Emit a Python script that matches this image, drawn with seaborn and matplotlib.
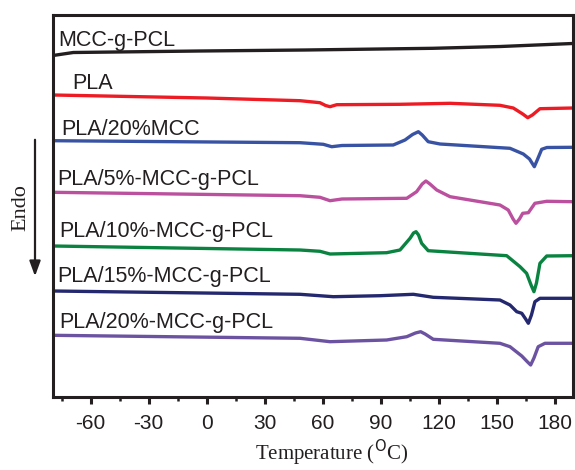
import numpy as np
import pandas as pd
import matplotlib
matplotlib.use("Agg")
import matplotlib.pyplot as plt
import seaborn as sns
from matplotlib.ticker import MultipleLocator

# ---------------- data ----------------
labels = ["MCC-g-PCL", "PLA", "PLA/20%MCC", "PLA/5%-MCC-g-PCL",
          "PLA/10%-MCC-g-PCL", "PLA/15%-MCC-g-PCL", "PLA/20%-MCC-g-PCL"]
colors = ["#231f20", "#ed1c24", "#3953a4", "#bb509e",
          "#0a8341", "#24286e", "#6c53a2"]

t_mcc = [-79.5, -69, -3.5, 51, 117, 152, 189.3]
hf_mcc = [34.15, 34.45, 34.6, 34.7, 34.87, 35.05, 35.35]

t_pla = [-79.5, 0, 48.3, 58.6, 61.5, 63.8, 67.3, 100, 126, 151.7, 158.6,
         163.5, 166.1, 168.5, 172.4, 189.3]
hf_pla = [30.2, 29.9, 29.63, 29.43, 29.15, 29.03, 29.23, 29.27, 29.37, 29.17,
          28.9, 28.3, 27.93, 28.2, 28.83, 28.9]

t_pla20mcc = [-79.5, 48.3, 60.3, 64.7, 70, 96.5, 102.6, 106.5, 109.5, 111.5,
              114.6, 120.7, 156.9, 163.8, 167, 169.5, 171, 173.3, 176, 189.3]
hf_pla20mcc = [25.63, 25.43, 25.27, 25.03, 25.15, 25.2, 25.7, 26.25, 26.53,
               26.2, 25.53, 25.3, 24.87, 24.3, 23.8, 23.03, 23.7, 24.77,
               24.95, 24.97]

t_pla5 = [-79.5, 48.3, 58.6, 63.8, 70, 103.5, 108.6, 111.5, 113.4, 115.5,
          119, 125.9, 151.7, 156, 158.5, 160, 161.8, 163.5, 166.4, 169.8,
          175.9, 189.3]
hf_pla5 = [20.47, 20.13, 19.97, 19.63, 19.8, 19.87, 20.53, 21.3, 21.6, 21.3,
           20.7, 20.03, 19.2, 18.7, 17.8, 17.37, 17.8, 18.37, 18.43, 19.37,
           19.57, 19.53]

t_pla10 = [-79.5, 48.3, 58.6, 63.8, 93.1, 100, 105.2, 107, 108.3, 109.6,
           111.2, 114.6, 155.2, 162.1, 165.5, 167.8, 169.3, 170.6, 172.4,
           175.9, 189.3]
hf_pla10 = [15.1, 14.7, 14.57, 14.3, 14.43, 14.7, 15.87, 16.4, 16.53, 16.2,
            15.37, 14.63, 14.13, 13.03, 12.37, 11.2, 10.53, 11.4, 13.37,
            14.1, 14.13]

t_pla15 = [-79.5, 48.3, 65.5, 89.7, 106.9, 117.2, 151.7, 156.9, 160.4, 163,
           165, 166.4, 168, 169.8, 172.4, 189.3]
hf_pla15 = [10.6, 10.27, 10.03, 10.13, 10.27, 9.97, 9.7, 9.2, 8.53, 8.37,
            7.8, 7.37, 8.2, 9.53, 9.87, 9.87]

t_pla20 = [-79.5, 48.3, 63.8, 93.1, 103.5, 108, 110.7, 113, 117.2, 151.7,
           156.9, 163, 166, 167.6, 169.3, 171.5, 175, 189.3]
hf_pla20 = [6.17, 5.87, 5.53, 5.7, 6.03, 6.4, 6.53, 6.3, 5.77, 5.37, 5.03,
            4.1, 3.5, 3.2, 3.9, 5.03, 5.37, 5.37]

temps = [t_mcc, t_pla, t_pla20mcc, t_pla5, t_pla10, t_pla15, t_pla20]
flows = [hf_mcc, hf_pla, hf_pla20mcc, hf_pla5, hf_pla10, hf_pla15, hf_pla20]

# label anchor positions (left edge, vertical centre) in data units
label_x = [-76.9, -69.7, -75.0, -77.3, -76.4, -77.3, -76.4]
label_y = [35.7, 31.4, 26.77, 21.8, 16.53, 12.1, 7.43]

xticks = [-60, -30, 0, 30, 60, 90, 120, 150, 180]

# ---------------- plot ----------------
sns.set_style("white")
plt.rcParams["font.family"] = ["Liberation Sans", "DejaVu Sans"]

frames = []
for lab, t, h in zip(labels, temps, flows):
    frames.append(pd.DataFrame({"T": t, "HF": h, "sample": lab}))
df = pd.concat(frames, ignore_index=True)

fig = plt.figure(figsize=(5.75, 4.70), dpi=100)
ax = fig.add_axes([53 / 575, 1 - 397 / 470, (573 - 53) / 575, (397 - 15) / 470])

sns.lineplot(data=df, x="T", y="HF", hue="sample", hue_order=labels,
             palette=colors, sort=False, estimator=None, linewidth=2.4,
             legend=False, ax=ax)
for ln in ax.get_lines():
    ln.set_solid_joinstyle("round")
    ln.set_solid_capstyle("round")

for lab, x, y in zip(labels, label_x, label_y):
    ax.text(x, y, lab, fontsize=15.5, color="#231f20", ha="left", va="center")

ax.set_xlim(-79.5, 189.5)
ax.set_ylim(0, 38.2)
ax.set_xticks(xticks)
ax.set_xticklabels([str(v) for v in xticks])
ax.xaxis.set_minor_locator(MultipleLocator(15))
ax.set_yticks([])
ax.tick_params(axis="x", which="major", direction="out", length=5, width=2.2,
               labelsize=15, pad=7, colors="#231f20", bottom=True)
ax.tick_params(axis="x", which="minor", direction="out", length=3, width=1.8,
               colors="#231f20", bottom=True)
for sp in ax.spines.values():
    sp.set_color("#231f20")
    sp.set_linewidth(2.2)

ax.set_xlabel("Temperature ($^{\\mathrm{O}}$C)", fontsize=15,
              family=["Liberation Serif", "DejaVu Serif"], color="#231f20")
ax.xaxis.label.set_va("center")
ax.xaxis.set_label_coords((332 - 53) / (573 - 53), -(453 - 397) / (397 - 15))
ax.set_ylabel("")

# Endo label and downward arrow, placed in figure pixel coordinates
fig.text(20.7 / 575, 1 - 208 / 470, "Endo", rotation=90, fontsize=16,
         family=["Liberation Serif", "DejaVu Serif"], color="#231f20",
         ha="center", va="center")
fig.patches.append(matplotlib.patches.FancyArrowPatch(
    (35 / 575, 1 - 137 / 470), (35 / 575, 1 - 279 / 470),
    transform=fig.transFigure, arrowstyle="-|>,head_length=6,head_width=2.2",
    color="#231f20", linewidth=1.6, mutation_scale=1.5))

fig.savefig("out.png", dpi=100)
